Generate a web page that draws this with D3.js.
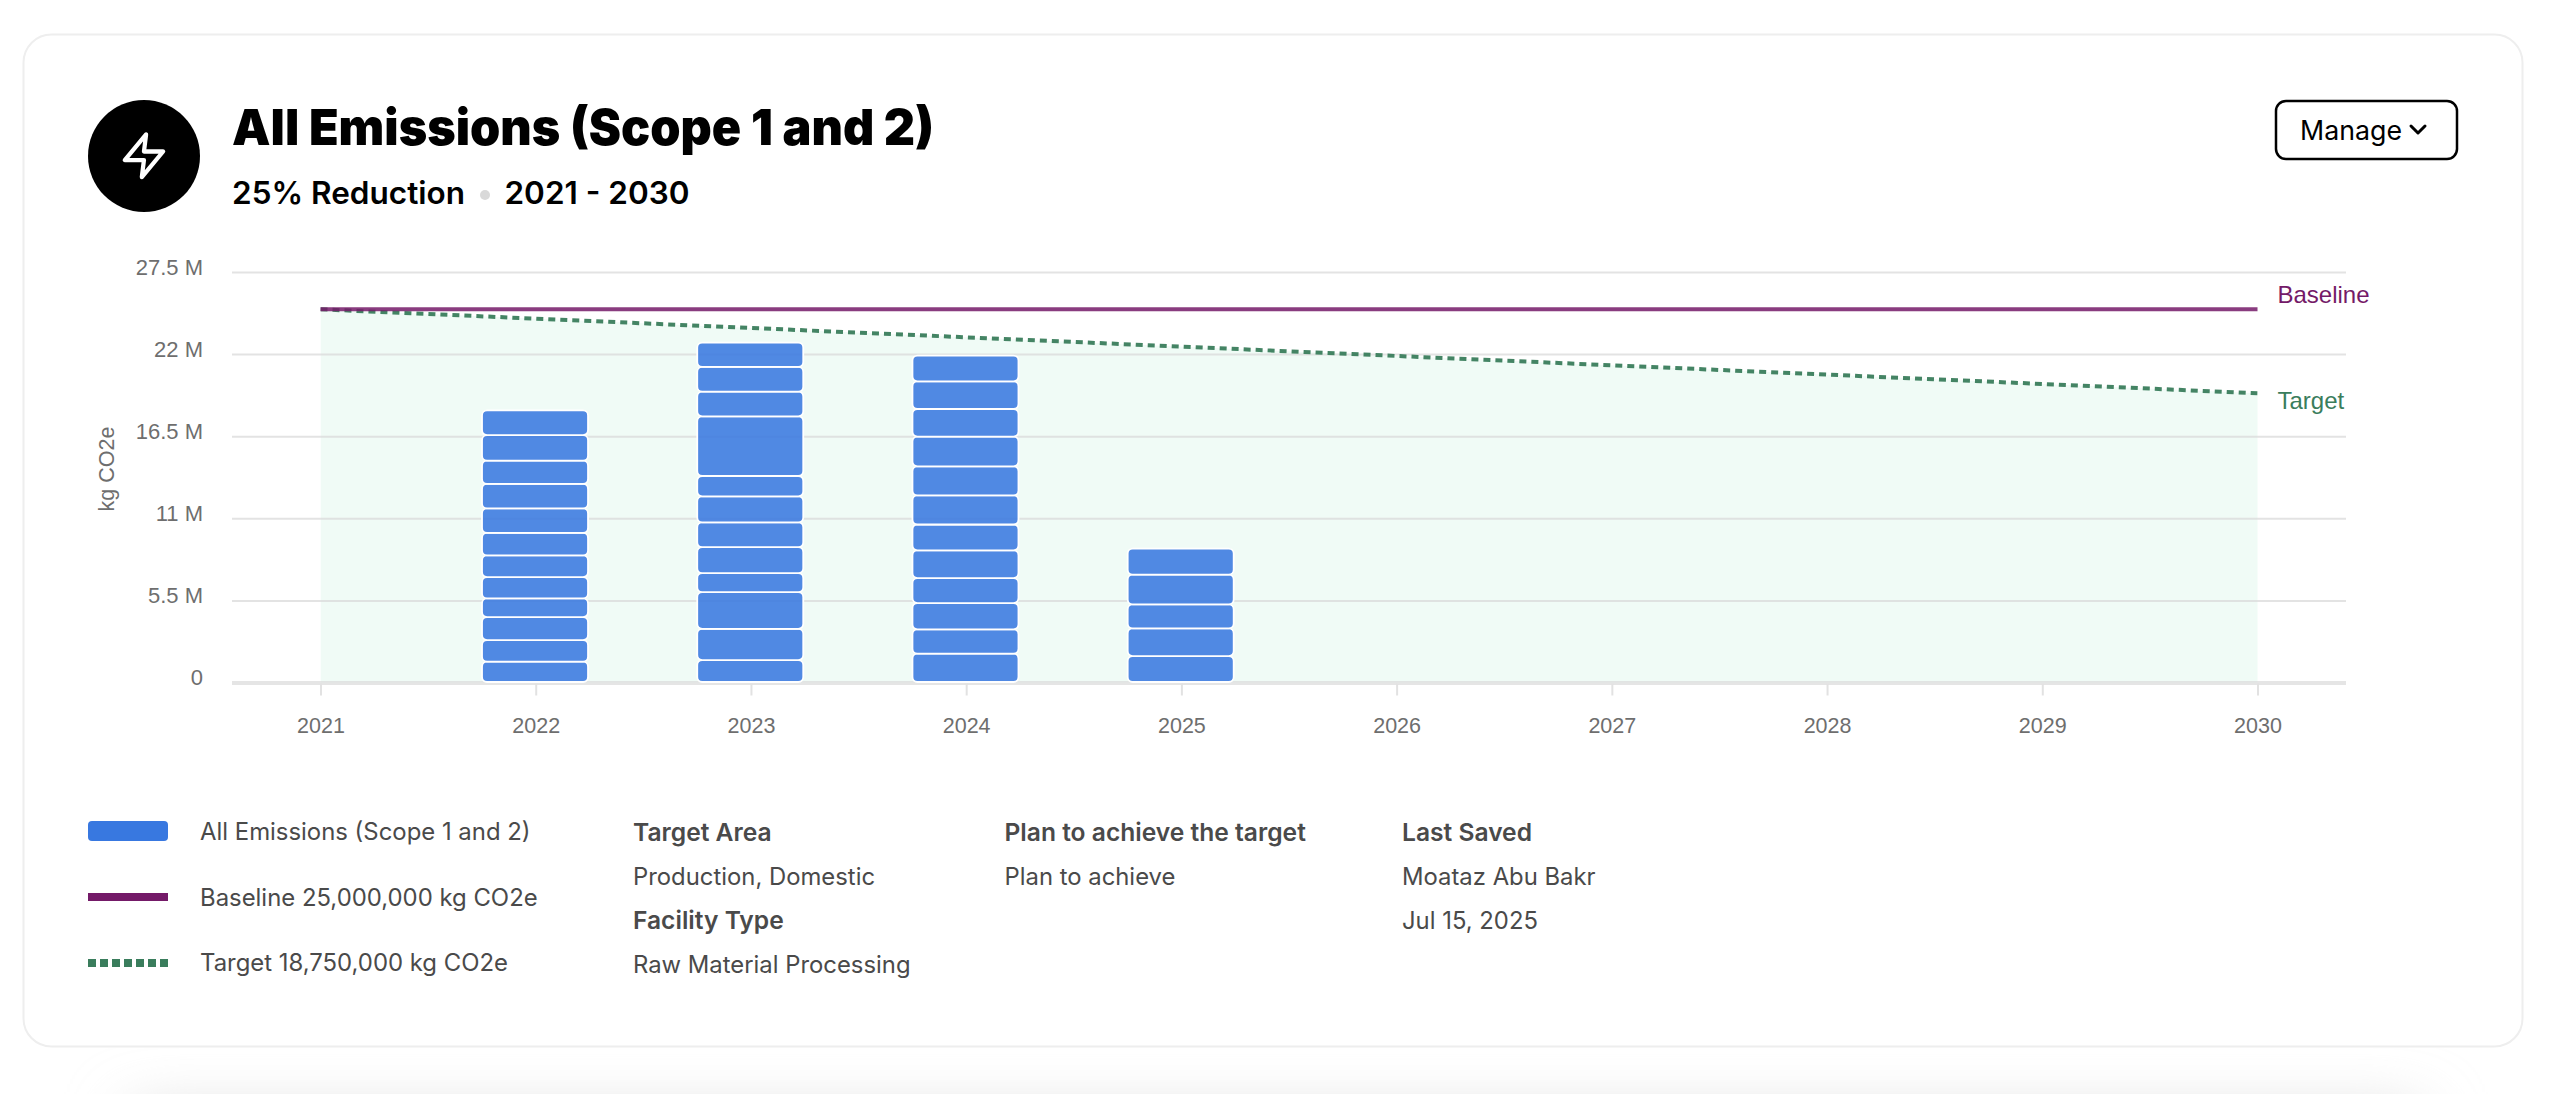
<!DOCTYPE html>
<html>
<head>
<meta charset="utf-8">
<title>All Emissions (Scope 1 and 2)</title>
<script src="https://cdn.jsdelivr.net/npm/d3@7/dist/d3.min.js"></script>
<style>
  html, body { margin: 0; padding: 0; background: #fff; overflow: hidden; }
  svg { display: block; }
  .ui { font-family: Inter, "Noto Sans", sans-serif; fill: #4a4a4a; }
  .plot { font-family: "Liberation Sans", Arial, sans-serif; }
</style>
</head>
<body>
<svg id="chart" width="2552" height="1094"></svg>
<script>
// Axis domain
const years = [2021, 2022, 2023, 2024, 2025, 2026, 2027, 2028, 2029, 2030];
const yTicks = [0, 5.5, 11, 16.5, 22, 27.5];
const yTickLabels = ["0", "5.5 M", "11 M", "16.5 M", "22 M", "27.5 M"];

// Monthly emissions per reporting year in millions of kg CO2e, bottom of the stack first
const emissions2022 = [1.36, 1.45, 1.54, 1.25, 1.43, 1.45, 1.51, 1.64, 1.64, 1.56, 1.71, 1.65];
const emissions2023 = [1.47, 2.09, 2.46, 1.27, 1.74, 1.66, 1.75, 1.36, 4.00, 1.65, 1.66, 1.62];
const emissions2024 = [1.90, 1.63, 1.76, 1.67, 1.86, 1.73, 1.95, 1.95, 1.99, 1.85, 1.85, 1.73];
const emissions2025 = [1.74, 1.85, 1.61, 1.99, 1.75];
const barYears = [2022, 2023, 2024, 2025];
const barStacks = [emissions2022, emissions2023, emissions2024, emissions2025];

// Reference lines, millions of kg CO2e. The target path runs to the final 18.75 M
// goal one year past the last plotted year and is cut off at the plot edge.
const baselineYears = [2021, 2030];
const baselineValues = [25, 25];
const targetYears = [2021, 2031];
const targetValues = [25, 18.75];

// Text blocks
const legendLabels = ["All Emissions (Scope 1 and 2)", "Baseline 25,000,000 kg CO2e", "Target 18,750,000 kg CO2e"];
const infoColumns = [
  { x: 633, rows: [["Target Area", true], ["Production, Domestic", false], ["Facility Type", true], ["Raw Material Processing", false]] },
  { x: 1004.5, rows: [["Plan to achieve the target", true], ["Plan to achieve", false]] },
  { x: 1402, rows: [["Last Saved", true], ["Moataz Abu Bakr", false], ["Jul 15, 2025", false]] }
];

const BLUE = "#3878e0", PURPLE = "#741a68", GREEN = "#3a7d5c";

const svg = d3.select("#chart");
const defs = svg.append("defs");

defs.append("filter").attr("id", "soft")
  .attr("x", "-20%").attr("y", "-200%").attr("width", "140%").attr("height", "500%")
  .append("feGaussianBlur").attr("stdDeviation", 30);

// Soft shadow of the next card peeking in under this one
svg.append("rect")
  .attr("x", 130).attr("y", 1112).attr("width", 2292).attr("height", 60)
  .attr("fill", "#dcdcdc").attr("filter", "url(#soft)");

// Card
svg.append("rect")
  .attr("x", 23.5).attr("y", 34.5).attr("width", 2499).attr("height", 1012)
  .attr("rx", 28).attr("fill", "#fff").attr("stroke", "#eeeeee").attr("stroke-width", 2);

// Header icon
svg.append("circle").attr("cx", 144).attr("cy", 156).attr("r", 56).attr("fill", "#000");
svg.append("polygon")
  .attr("points", "13 2 3 14 12 14 11 22 21 10 12 10 13 2")
  .attr("transform", "translate(118.4,130.2) scale(2.13)")
  .attr("fill", "none").attr("stroke", "#fff").attr("stroke-width", 2)
  .attr("stroke-linejoin", "round").attr("stroke-linecap", "round");

// Header text
const heading = "Inter, 'Noto Sans', sans-serif";
svg.append("text").text("All Emissions (Scope 1 and 2)")
  .attr("x", 232).attr("y", 145).attr("fill", "#000")
  .attr("font-family", heading).attr("font-weight", 900).attr("font-size", 50)
  .attr("textLength", 702).attr("lengthAdjust", "spacingAndGlyphs");
svg.append("text").text("25% Reduction")
  .attr("x", 232).attr("y", 204).attr("fill", "#000")
  .attr("font-family", heading).attr("font-weight", 600).attr("font-size", 31)
  .attr("textLength", 233).attr("lengthAdjust", "spacingAndGlyphs");
svg.append("circle").attr("cx", 485).attr("cy", 195).attr("r", 5).attr("fill", "#d9d9d9");
svg.append("text").text("2021 - 2030")
  .attr("x", 504.5).attr("y", 204).attr("fill", "#000")
  .attr("font-family", heading).attr("font-weight", 600).attr("font-size", 31)
  .attr("textLength", 185).attr("lengthAdjust", "spacingAndGlyphs");

// Manage button
svg.append("rect")
  .attr("x", 2276).attr("y", 101).attr("width", 181).attr("height", 58)
  .attr("rx", 10).attr("fill", "#fff").attr("stroke", "#000").attr("stroke-width", 2.5);
svg.append("text").text("Manage").attr("class", "ui")
  .attr("x", 2300).attr("y", 139.5).attr("font-size", 27).style("fill", "#000")
  .attr("textLength", 102).attr("lengthAdjust", "spacingAndGlyphs");
svg.append("path")
  .attr("d", "M2411 126 L2418 133 L2425 126")
  .attr("fill", "none").attr("stroke", "#000").attr("stroke-width", 3)
  .attr("stroke-linecap", "round").attr("stroke-linejoin", "round");

// Scales
const x = d3.scaleLinear().domain([2021, 2030]).range([320.5, 2257.5]);
const y = d3.scaleLinear().domain([0, 27.5]).range([682.5, 272]);

// Plot edge that trims the target path and its shaded area
defs.append("clipPath").attr("id", "plot-edge").append("rect")
  .attr("x", x(2021)).attr("y", y(27.5)).attr("width", x(2030) - x(2021)).attr("height", y(0) - y(27.5) + 2);

const plot = svg.append("g").attr("class", "plot");

// Area below the target path
const targetPoints = targetYears.map((yr, i) => [yr, targetValues[i]]);
plot.append("path").datum(targetPoints)
  .attr("clip-path", "url(#plot-edge)")
  .attr("fill", "#f0fbf6")
  .attr("d", d3.area().x(d => x(d[0])).y0(y(0)).y1(d => y(d[1])));

// Y axis with full-width gridlines
const yAxis = plot.append("g").attr("transform", "translate(232,0)")
  .call(d3.axisLeft(y).tickValues(yTicks).tickFormat((d, i) => yTickLabels[i]).tickSize(0).tickPadding(29));
yAxis.select(".domain").remove();
yAxis.selectAll("text")
  .attr("font-family", "'Liberation Sans', Arial, sans-serif").attr("font-size", 22).attr("fill", "#6e6e6e")
  .attr("dy", "0").attr("transform", "translate(0,2)");
yAxis.selectAll(".tick line")
  .attr("x1", 0).attr("x2", 2346 - 232)
  .attr("stroke", "#d9d9d9").attr("stroke-opacity", 0.75).attr("stroke-width", 2);
yAxis.select(".tick line").attr("stroke-width", 4).attr("stroke", "#dcdcdc");

// X axis
const xAxis = plot.append("g").attr("transform", `translate(0,${y(0) + 1})`)
  .call(d3.axisBottom(x).tickValues(years).tickFormat(d3.format("d")).tickSize(12).tickPadding(22));
xAxis.select(".domain").remove();
xAxis.selectAll(".tick line").attr("stroke", "#e2e2e2").attr("stroke-width", 2);
xAxis.selectAll("text")
  .attr("font-family", "'Liberation Sans', Arial, sans-serif").attr("font-size", 21.5).attr("fill", "#6e6e6e");

// Y axis title
plot.append("text").text("kg CO2e")
  .attr("transform", "translate(114,469) rotate(-90)")
  .attr("text-anchor", "middle").attr("font-size", 21.5).attr("fill", "#6e6e6e");

// Stacked bars, one rounded segment per entry
const BAR_WIDTH = 106;
barYears.forEach((yr, i) => {
  const stack = d3.cumsum(barStacks[i]);
  plot.append("g").attr("transform", "translate(-0.7,-0.5)").selectAll("rect")
    .data(barStacks[i])
    .join("rect")
    .attr("x", x(yr) - BAR_WIDTH / 2)
    .attr("width", BAR_WIDTH)
    .attr("y", (d, j) => y(stack[j]))
    .attr("height", d => y(0) - y(d))
    .attr("rx", 5)
    .attr("fill", BLUE).attr("fill-opacity", 0.87)
    .attr("stroke", "#fff").attr("stroke-width", 1.8);
});

// Reference lines
const line = d3.line().x(d => x(d[0])).y(d => y(d[1]));
plot.append("path").datum(targetPoints)
  .attr("clip-path", "url(#plot-edge)")
  .attr("d", line).attr("fill", "none")
  .attr("stroke", GREEN).attr("stroke-opacity", 0.95).attr("stroke-width", 4).attr("stroke-dasharray", "7 5");
plot.append("path").datum(baselineYears.map((yr, i) => [yr, baselineValues[i]]))
  .attr("d", line).attr("fill", "none")
  .attr("stroke", PURPLE).attr("stroke-opacity", 0.85).attr("stroke-width", 4);

// Line labels
plot.append("text").text("Baseline").attr("x", 2277.5).attr("y", 302.5).attr("font-size", 24).attr("fill", PURPLE);
plot.append("text").text("Target").attr("x", 2277.5).attr("y", 409).attr("font-size", 24).attr("fill", GREEN);

// Legend
const legend = svg.append("g");
legend.append("rect").attr("x", 88).attr("y", 821).attr("width", 80).attr("height", 20).attr("rx", 4).attr("fill", BLUE);
legend.append("line").attr("x1", 88).attr("x2", 168).attr("y1", 897).attr("y2", 897)
  .attr("stroke", PURPLE).attr("stroke-width", 8);
legend.append("line").attr("x1", 88).attr("x2", 168).attr("y1", 963).attr("y2", 963)
  .attr("stroke", GREEN).attr("stroke-width", 8).attr("stroke-dasharray", "8 4");
const legendBaselines = [839.5, 905.5, 971];
legend.selectAll("text").data(legendLabels).join("text")
  .attr("class", "ui").text(d => d)
  .attr("x", 200).attr("y", (d, i) => legendBaselines[i]).attr("font-size", 23.9);

// Detail columns
const rowBaselines = [840.5, 884.5, 928.5, 972.5];
infoColumns.forEach(col => {
  svg.append("g").selectAll("text").data(col.rows).join("text")
    .attr("class", "ui").text(d => d[0])
    .attr("x", col.x).attr("y", (d, i) => rowBaselines[i])
    .attr("font-size", d => d[1] ? 24.6 : 23.85).attr("font-weight", d => d[1] ? 600 : 400);
});
</script>
</body>
</html>
